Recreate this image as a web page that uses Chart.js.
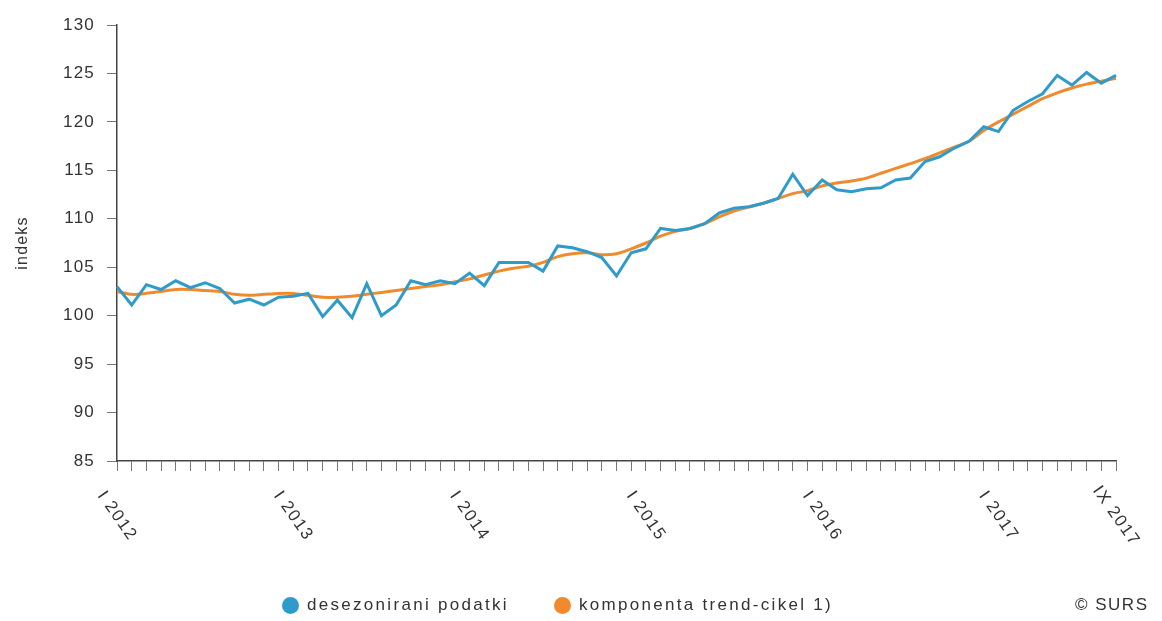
<!DOCTYPE html>
<html>
<head>
<meta charset="utf-8">
<script src="https://cdn.jsdelivr.net/npm/chart.js@4/dist/chart.umd.min.js"></script>
<style>
  html, body { margin: 0; padding: 0; background: #fff; }
  #wrap { position: relative; width: 1162px; height: 621px; }
  .item { position: absolute; top: 595px; display: flex; align-items: center; white-space: nowrap;
    font: 17px "Liberation Sans", Arial, sans-serif; color: #333; letter-spacing: 2.3px; }
  .dot { width: 17px; height: 17px; border-radius: 50%; margin-right: 8px; }
  #surs { position: absolute; left: 1075px; top: 595px; font: 17px "Liberation Sans", Arial, sans-serif;
    color: #333; letter-spacing: 1.5px; }
</style>
</head>
<body>
<div id="wrap">
  <canvas id="chart" width="1162" height="621"></canvas>
  <div id="surs">© SURS</div>
</div>
<script>
const months = ['I', 'II', 'III', 'IV', 'V', 'VI', 'VII', 'VIII', 'IX', 'X', 'XI', 'XII'];
const years = [2012, 2013, 2014, 2015, 2016, 2017];
const lastMonth = 9; // IX 2017
const categories = [];
years.forEach(y => months.forEach((m, i) => {
  if (y < 2017 || i < lastMonth) categories.push(m + ' ' + y);
}));
const tickLabels = ['I 2012', 'I 2013', 'I 2014', 'I 2015', 'I 2016', 'I 2017', 'IX 2017'];

const seasonal = [
  103.0, 101.1, 103.2, 102.7, 103.6, 102.9, 103.4, 102.8, 101.3, 101.7, 101.1, 101.9,
  102.0, 102.3, 99.9, 101.6, 99.8, 103.3, 100.0, 101.1, 103.6, 103.2, 103.6, 103.3,
  104.4, 103.1, 105.5, 105.5, 105.5, 104.6, 107.2, 107.0, 106.6, 106.0, 104.1, 106.5,
  106.9, 109.0, 108.8, 109.0, 109.5, 110.6, 111.1, 111.25, 111.6, 112.1, 114.6, 112.4,
  114.0, 113.0, 112.8, 113.1, 113.2, 114.0, 114.2, 115.9, 116.4, 117.3, 118.0, 119.5,
  119.0, 121.2, 122.1, 122.9, 124.8, 123.8, 125.1, 124.0, 124.8
];
const trend = [
  102.5, 102.2, 102.3, 102.5, 102.7, 102.7, 102.6, 102.5, 102.2, 102.1, 102.2, 102.3,
  102.3, 102.1, 101.9, 101.9, 102.0, 102.2, 102.4, 102.6, 102.8, 103.0, 103.2, 103.5,
  103.8, 104.2, 104.6, 104.9, 105.1, 105.5, 106.1, 106.4, 106.5, 106.3, 106.4, 106.9,
  107.5, 108.2, 108.7, 109.0, 109.5, 110.2, 110.8, 111.2, 111.6, 112.1, 112.6, 112.9,
  113.4, 113.7, 113.9, 114.2, 114.7, 115.2, 115.7, 116.2, 116.8, 117.4, 118.0, 119.1,
  120.0, 120.8, 121.6, 122.4, 123.0, 123.5, 123.9, 124.2, 124.5
];
const seriesNames = ['desezonirani podatki', 'komponenta trend-cikel 1)'];
const colors = ['#2f9bcb', '#f08a2c'];
const legendLeft = [282, 554];

const font = '"Liberation Sans", Arial, sans-serif';

const xLabels = {
  id: 'xLabels',
  beforeDraw(chart) { chart.ctx.letterSpacing = '1.2px'; },
  afterDraw(chart) {
    const { ctx, scales: { x } } = chart;
    ctx.save();
    ctx.letterSpacing = '1.5px';
    ctx.font = '17px ' + font;
    ctx.fillStyle = '#333';
    ctx.textAlign = 'center';
    ctx.textBaseline = 'middle';
    tickLabels.forEach(lbl => {
      const px = x.getPixelForValue(categories.indexOf(lbl));
      ctx.save();
      ctx.translate(px, x.top + 55);
      ctx.rotate(55 * Math.PI / 180);
      ctx.fillText(lbl, 0, 0);
      ctx.restore();
    });
    ctx.restore();
  }
};

const chart = new Chart(document.getElementById('chart'), {
  type: 'line',
  data: {
    labels: categories,
    datasets: [
      { label: seriesNames[0], data: seasonal, borderColor: colors[0], backgroundColor: colors[0],
        borderWidth: 3, pointRadius: 0, tension: 0 },
      { label: seriesNames[1], data: trend, borderColor: colors[1], backgroundColor: colors[1],
        borderWidth: 3, pointRadius: 0, tension: 0.3 }
    ]
  },
  options: {
    responsive: false,
    animation: false,
    layout: { padding: { top: 25, right: 46, bottom: 0, left: 0 } },
    plugins: { legend: { display: false }, tooltip: { enabled: false } },
    scales: {
      x: {
        offset: false,
        grid: { display: true, drawOnChartArea: false, drawTicks: true, tickLength: 10, color: '#777' },
        border: { display: true, color: '#444', width: 1.5 },
        ticks: { display: false, autoSkip: false },
        afterFit(s) { s.height = 160; }
      },
      y: {
        min: 85, max: 130,
        grid: { display: true, drawOnChartArea: false, drawTicks: true, tickLength: 10, color: '#777' },
        border: { display: true, color: '#444', width: 1.5 },
        ticks: { stepSize: 5, padding: 12, color: '#333', font: { size: 17, family: font } },
        title: { display: true, text: 'indeks', color: '#333', font: { size: 16, family: font }, padding: { top: 13, bottom: 0 } },
        afterFit(s) { s.width = 117; }
      }
    }
  },
  plugins: [xLabels]
});

const wrap = document.getElementById('wrap');
chart.data.datasets.forEach((ds, i) => {
  const item = document.createElement('div');
  item.className = 'item';
  item.style.left = legendLeft[i] + 'px';
  item.innerHTML = '<span class="dot" style="background:' + ds.borderColor + '"></span><span>' + ds.label + '</span>';
  wrap.appendChild(item);
});
</script>
</body>
</html>
